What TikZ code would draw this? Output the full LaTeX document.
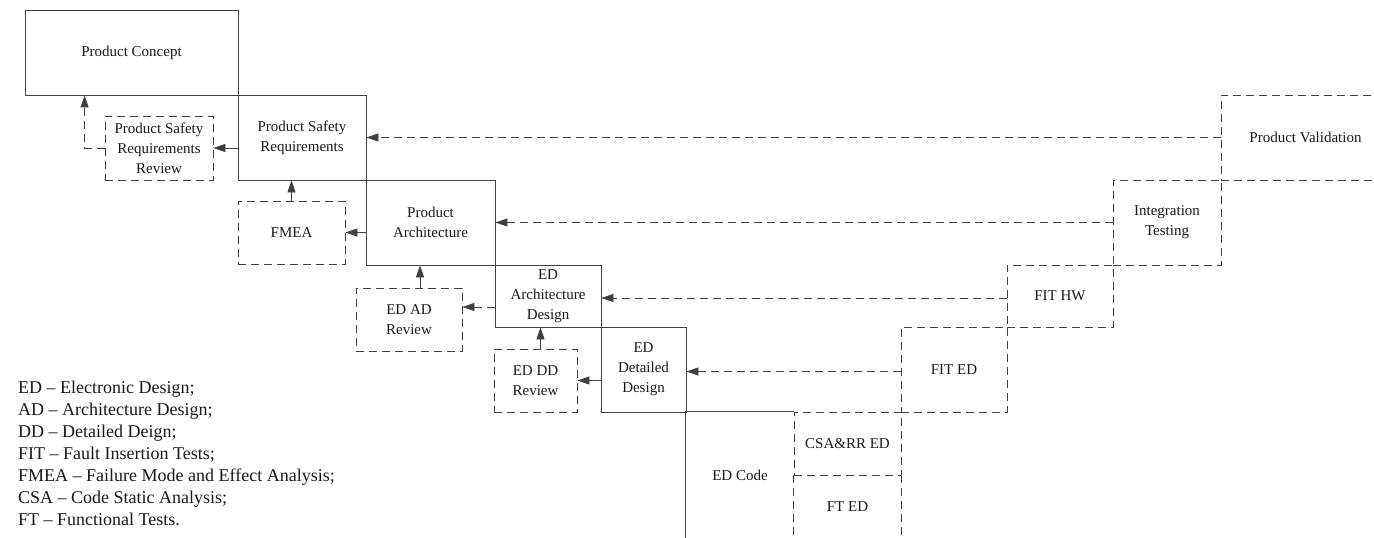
\documentclass[tikz,border=0pt]{standalone}
\usepackage{fontspec}
\setmainfont{Liberation Serif}
\usetikzlibrary{arrows.meta,calc}
\begin{document}
\begin{tikzpicture}[x=1pt,y=-1pt,
  every node/.style={text=black!90},
  ln/.style={draw=black!75,line width=0.8pt},
  dl/.style={ln,dash pattern=on 8pt off 5pt},
  sbox/.style={ln,inner sep=3pt,align=center,font=\fontsize{15}{20}\selectfont},
  dbox/.style={sbox,dash pattern=on 8pt off 5pt},
  tbox/.style={inner sep=3pt,align=center,font=\fontsize{15}{20}\selectfont},
  arr/.style={ln,-{Triangle[length=12pt,width=8pt]}},
  darr/.style={dl,-{Triangle[length=12pt,width=8pt]}}]
\useasboundingbox (0,0) rectangle (1374,538);
\clip (0,0) rectangle (1374,538);
% left (solid) staircase
\node[sbox,minimum width=213pt,minimum height=85pt] (concept) at (131.5,52.5) {Product Concept};
\node[sbox,minimum width=128pt,minimum height=85pt] (psr) at (302,137.5) {Product Safety\\Requirements};
\node[sbox,minimum width=129pt,minimum height=85pt] (pa) at (430.5,222.5) {Product\\Architecture};
\node[sbox,minimum width=106pt,minimum height=62pt] (edad) at (548,296) {ED\\Architecture\\Design};
\node[sbox,minimum width=85pt,minimum height=85pt] (eddd) at (643.5,369.5) {ED\\Detailed\\Design};
\node[tbox,minimum width=108pt,minimum height=126pt] (code) at (740,475) {ED Code};
\draw[ln] ($(code.south west)+(0,10)$) -- (code.north west) -- (code.north east);
% right (dashed) staircase
\node[dbox,minimum width=107pt,minimum height=63pt] (csa) at (847.5,443.5) {CSA\&RR ED};
\node[tbox,minimum width=107pt,minimum height=63pt] (ft) at (847.5,506.5) {FT ED};
\draw[dl] ($(ft.south west)+(0,10)$) -- (ft.north west);
\draw[dl] ($(ft.south east)+(0,10)$) -- (ft.north east);
\node[dbox,minimum width=106pt,minimum height=85pt] (fited) at (954,369.5) {FIT ED};
\node[dbox,minimum width=106pt,minimum height=62pt] (fithw) at (1060,296) {FIT HW};
\node[dbox,minimum width=108pt,minimum height=85pt] (it) at (1167,222.5) {Integration\\Testing};
\node[dbox,minimum width=169pt,minimum height=85pt] (pv) at (1305.5,137.5) {Product Validation};
% review boxes
\node[dbox,minimum width=108pt,minimum height=64pt] (psrr) at (159,148) {Product Safety\\Requirements\\Review};
\node[dbox,minimum width=107pt,minimum height=63pt] (fmea) at (291.5,232.5) {FMEA};
\node[dbox,minimum width=106pt,minimum height=63pt] (edadr) at (409,319.5) {ED AD\\Review};
\node[dbox,minimum width=83pt,minimum height=63pt] (edddr) at (535.5,380.5) {ED DD\\Review};
% left arrows
\draw[arr] (psr.west |- psrr.east) -- (psrr.east);
\draw[darr] (psrr.west) -| ($(concept.south west)+(60,0)$);
\draw[arr] (fmea.north) -- (fmea.north |- psr.south);
\draw[arr] (pa.west |- fmea.east) -- (fmea.east);
\coordinate (a3) at ($(edadr.north)+(11,0)$);
\draw[arr] (a3) -- (a3 |- pa.south);
\coordinate (a4) at ($(edad.west)+(0,11)$);
\draw[darr] (a4) -- (a4 -| edadr.east);
\coordinate (a5) at ($(edddr.north)+(5,0)$);
\draw[arr] (a5) -- (a5 |- edad.south);
\draw[arr] (eddd.west |- edddr.east) -- (edddr.east);
% right arrows
\draw[darr] (pv.west) -- (pv.west -| psr.east);
\draw[darr] (it.west) -- (it.west -| pa.east);
\coordinate (b3) at ($(fithw.west)+(0,2)$);
\draw[darr] (b3) -- (b3 -| edad.east);
\coordinate (b4) at ($(fited.west)+(0,2)$);
\draw[darr] (b4) -- (b4 -| eddd.east);
% legend
\node[anchor=north west,inner sep=0pt,align=left,font=\fontsize{18}{22}\selectfont] (legend) at (18,381)
 {ED \textendash{} Electronic Design;\\
  AD \textendash{} Architecture Design;\\
  DD \textendash{} Detailed Deign;\\
  FIT \textendash{} Fault Insertion Tests;\\
  FMEA \textendash{} Failure Mode and Effect Analysis;\\
  CSA \textendash{} Code Static Analysis;\\
  FT \textendash{} Functional Tests.};
\end{tikzpicture}
\end{document}
